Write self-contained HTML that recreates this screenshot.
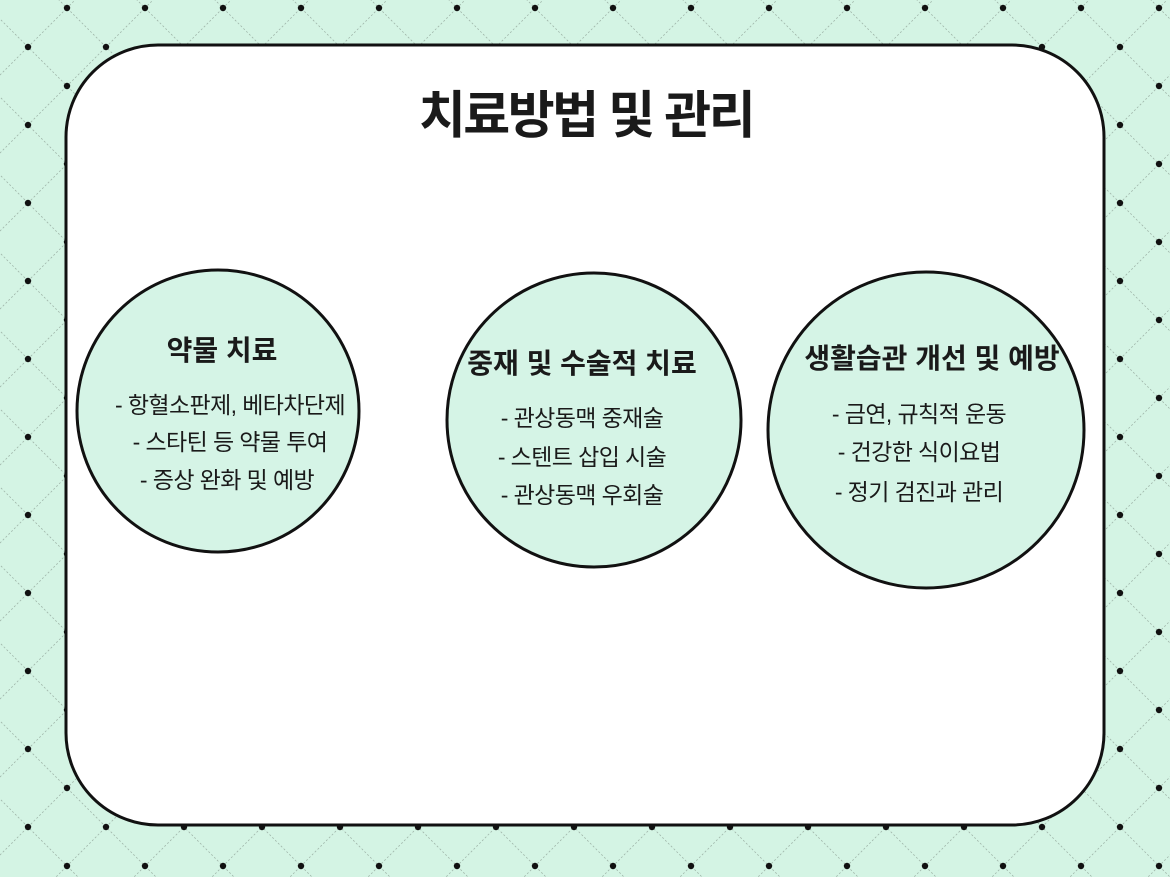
<!DOCTYPE html>
<html><head><meta charset="utf-8"><style>
html,body{margin:0;padding:0;width:1170px;height:877px;overflow:hidden;background:#d4f4e4}
svg{display:block}
text{font-family:"Liberation Sans","Noto Sans CJK KR",sans-serif;fill:#1a1a1a;text-anchor:middle}
.i{font-size:23px;letter-spacing:-0.6px}
.t{font-size:28px;font-weight:bold}
</style></head><body>
<svg width="1170" height="877" viewBox="0 0 1170 877" xmlns="http://www.w3.org/2000/svg">
<defs>
<pattern id="p" x="28" y="8" width="78" height="78" patternUnits="userSpaceOnUse">
<path d="M0 39 L39 0 L78 39 L39 78 Z" fill="none" stroke="#9fb5a9" stroke-width="0.8" stroke-dasharray="2 2"/>
<circle cx="0" cy="39" r="3.2" fill="#111"/>
<circle cx="78" cy="39" r="3.2" fill="#111"/>
<circle cx="39" cy="0" r="3.2" fill="#111"/>
<circle cx="39" cy="78" r="3.2" fill="#111"/>
</pattern>
</defs>
<rect width="1170" height="877" fill="#d4f4e4"/>
<rect width="1170" height="877" fill="url(#p)"/>
<rect x="66" y="45" width="1038" height="780" rx="92" fill="#fff" stroke="#111" stroke-width="3"/>
<text x="586" y="133" font-size="51" font-weight="bold" style="letter-spacing:-2.5px">치료방법 및 관리</text>

<circle cx="218" cy="411" r="141" fill="#d5f4e6" stroke="#111" stroke-width="3"/>
<text x="222" y="360" class="t">약물 치료</text>
<text x="230" y="413" class="i">- 항혈소판제, 베타차단제</text>
<text x="230" y="450" class="i">- 스타틴 등 약물 투여</text>
<text x="227" y="488" class="i">- 증상 완화 및 예방</text>

<circle cx="594" cy="420" r="147" fill="#d5f4e6" stroke="#111" stroke-width="3"/>
<text x="582" y="373" class="t">중재 및 수술적 치료</text>
<text x="582" y="426" class="i">- 관상동맥 중재술</text>
<text x="582" y="465" class="i">- 스텐트 삽입 시술</text>
<text x="582" y="503" class="i">- 관상동맥 우회술</text>

<circle cx="926" cy="430" r="158" fill="#d5f4e6" stroke="#111" stroke-width="3"/>
<text x="932" y="368" class="t">생활습관 개선 및 예방</text>
<text x="919" y="422" class="i">- 금연, 규칙적 운동</text>
<text x="919" y="460" class="i">- 건강한 식이요법</text>
<text x="919" y="500" class="i">- 정기 검진과 관리</text>
</svg>
</body></html>
